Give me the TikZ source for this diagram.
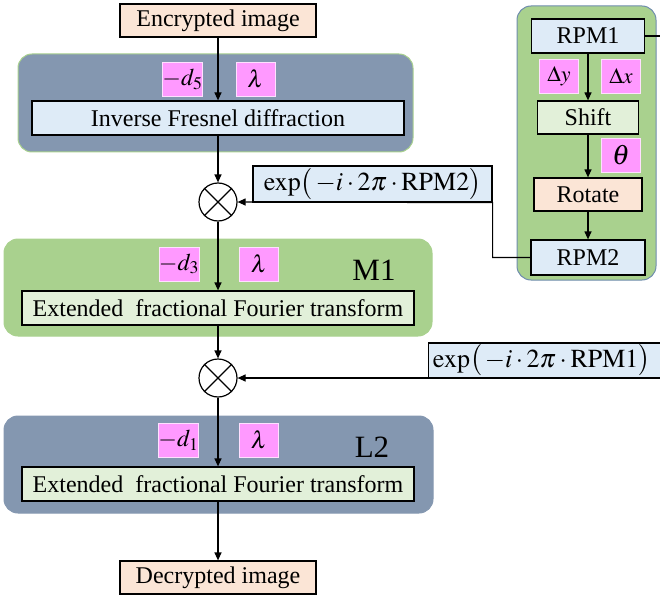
\documentclass[tikz,border=0pt]{standalone}
\usepackage{mathptmx}
\usepackage{fontspec}
\setmainfont{Liberation Serif}
\usetikzlibrary{arrows.meta}

\definecolor{slate}{HTML}{8497B0}
\definecolor{leaf}{HTML}{A9D18E}
\definecolor{paleblue}{HTML}{DEEBF7}
\definecolor{palegreen}{HTML}{E2F0D9}
\definecolor{peach}{HTML}{FBE5D6}
\definecolor{keypink}{HTML}{FF99FF}
\definecolor{rim}{HTML}{6F8CAE}

\begin{document}
\begin{tikzpicture}[x=1pt,y=-1pt,
			every node/.style={font=\fontsize{24}{28}\selectfont,inner sep=0pt},
			panel/.style={rounded corners=14pt,line width=1pt},
			blk/.style={draw=black,line width=1.2pt},
			key/.style={fill=keypink,draw=white!70!keypink,line width=0.8pt,minimum width=39pt,minimum height=34pt},
			phase/.style={blk,fill=paleblue,font=\fontsize{26}{30}\selectfont},
			otimes/.style={circle,draw=black,line width=1.2pt,minimum size=38pt},
			arr/.style={-{Triangle[length=8pt,width=7pt]},line width=1.2pt}]
			\useasboundingbox (0,0) rectangle (660,596);
			
			% panels
			\node[panel,fill=slate,draw=leaf,minimum width=395pt,minimum height=98pt] (pan1) at (215.5,103) {};
			\node[panel,fill=leaf,draw=leaf,minimum width=428pt,minimum height=97pt] (pan2) at (218,287.5) {};
			\node[panel,fill=slate,draw=slate,minimum width=429pt,minimum height=97pt] (pan3) at (218.5,464.5) {};
			\node[panel,fill=leaf,draw=rim,minimum width=139pt,minimum height=274pt] (pan4) at (586.5,143) {};
			
			% main column
			\node[blk,fill=peach,minimum width=196pt,minimum height=33pt] (enc) at (218,20.5) {Encrypted image};
			\node[key] (dfive) at (182.5,79) {$-d_5$};
			\node[key] (lamA) at (255.5,79) {$\lambda$};
			\node[blk,fill=paleblue,minimum width=372pt,minimum height=34pt] (fres) at (218,118) {Inverse Fresnel diffraction};
			\node[otimes] (mulA) at (218,202) {};
			\node[phase,minimum width=239pt,minimum height=36pt] (expB) at (372.5,184) {$\exp\bigl(\,-i\cdot 2\pi\cdot \mathrm{RPM2}\bigr)$};
			\node[key] (dthree) at (179,264) {$-d_3$};
			\node[key] (lamB) at (259,264) {$\lambda$};
			\node[font=\fontsize{31}{34}\selectfont] (mone) at (374,270) {M1};
			\node[blk,fill=palegreen,minimum width=392pt,minimum height=34pt] (frtA) at (218,308) {Extended\ \ fractional Fourier transform};
			\node[otimes] (mulB) at (218,378) {};
			\node[phase,minimum width=234pt,minimum height=35pt,anchor=west,text width=234pt] (expA) at (428,360.5) {\,$\exp\bigl(\,-i\cdot 2\pi\cdot \mathrm{RPM1}\bigr)$};
			\node[key] (done) at (178.5,440) {$-d_1$};
			\node[key] (lamC) at (259,440) {$\lambda$};
			\node[font=\fontsize{31}{34}\selectfont] (ltwo) at (372,447) {L2};
			\node[blk,fill=palegreen,minimum width=392pt,minimum height=34pt] (frtB) at (218,484) {Extended\ \ fractional Fourier transform};
			\node[blk,fill=peach,minimum width=196pt,minimum height=33pt] (dec) at (218,577.5) {Decrypted image};
			
			% RPM chain
			\node[blk,fill=paleblue,minimum width=113pt,minimum height=34pt] (rpmA) at (588,36) {RPM1};
			\node[key,font=\fontsize{22}{24}\selectfont] (dy) at (559,76) {$\Delta y$};
			\node[key,font=\fontsize{22}{24}\selectfont] (dx) at (621,76) {$\Delta x$};
			\node[blk,fill=palegreen,minimum width=101pt,minimum height=33pt] (shift) at (588,117.5) {Shift};
			\node[key,font=\fontsize{28}{30}\selectfont] (th) at (621,155.5) {$\theta$};
			\node[blk,fill=peach,minimum width=108pt,minimum height=33pt] (rot) at (588,194.5) {Rotate};
			\node[blk,fill=paleblue,minimum width=114pt,minimum height=35pt] (rpmB) at (588,257.5) {RPM2};
			\coordinate (rpmout) at (660,36);
			\coordinate (rpmin) at (660,378);
			
			% cross marks
			\foreach \m in {mulA,mulB}
			\draw[line width=1.2pt] (\m.north west) -- (\m.south east) (\m.north east) -- (\m.south west);
			
			% arrows
			\draw[arr] (enc.south) -- (fres.north);
			\draw[arr] (fres.south) -- (mulA.north);
			\draw[arr] (mulA.south) -- (frtA.north);
			\draw[arr] (frtA.south) -- (mulB.north);
			\draw[arr] (mulB.south) -- (frtB.north);
			\draw[arr] (frtB.south) -- (dec.north);
			\draw[arr] (rpmA.south) -- (shift.north);
			\draw[arr] (shift.south) -- (rot.north);
			\draw[arr] (rot.south) -- (rpmB.north);
			\draw[arr] (rpmB.west) -| (expB.south east) -- (mulA.east);
			\draw[line width=1.2pt] (rpmA.east) -- (rpmout);
			\draw[arr] (rpmin) -- (mulB.east);
		\end{tikzpicture}
\end{document}
